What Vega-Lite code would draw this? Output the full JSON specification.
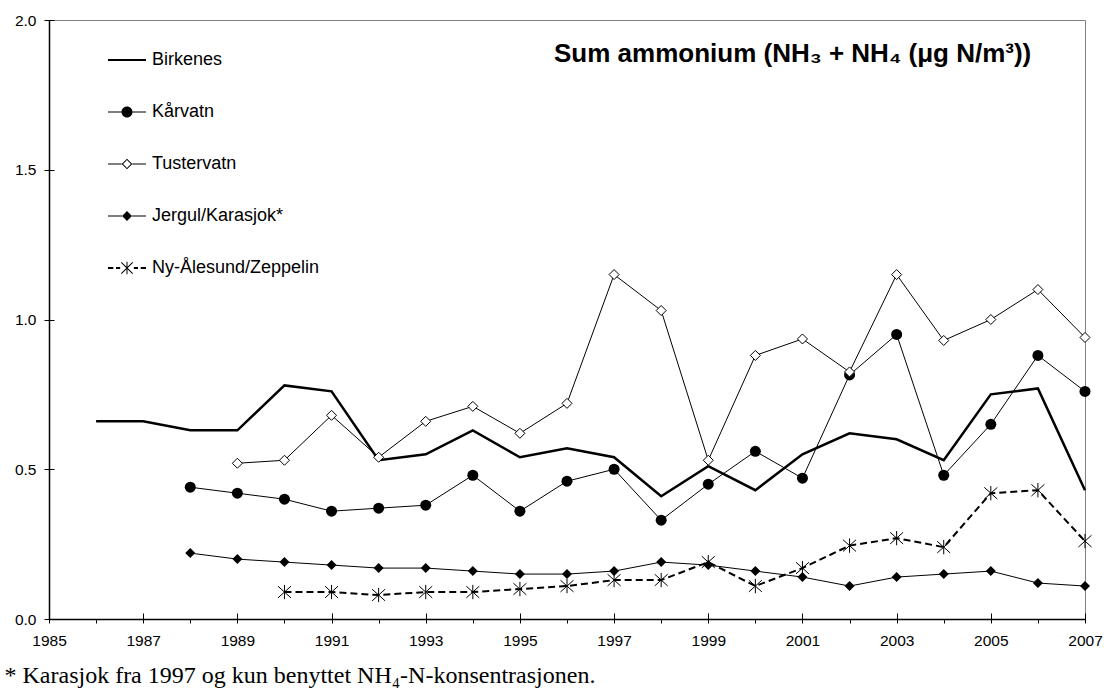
{
  "$schema": "https://vega.github.io/schema/vega-lite/v6.json",
  "width": 1036,
  "height": 599,
  "autosize": {"type": "none"},
  "padding": {"left": 49, "top": 20, "right": 19, "bottom": 69},
  "background": "white",
  "config": {"view": {"stroke": "#808080", "strokeWidth": 1}, "font": "Liberation Sans"},
  "title": {"text": "Sum ammonium (NH₃ + NH₄ (μg N/m³))", "orient": "none", "anchor": "start", "align": "left", "frame": "group", "font": "Liberation Sans", "fontSize": 26, "fontWeight": "bold", "color": "black", "baseline": "alphabetic", "offset": 0, "dx": 505, "dy": 42},
  "data": {"values": [
    {"series": "Birkenes", "year": 1986, "value": 0.66},
    {"series": "Birkenes", "year": 1987, "value": 0.66},
    {"series": "Birkenes", "year": 1988, "value": 0.63},
    {"series": "Birkenes", "year": 1989, "value": 0.63},
    {"series": "Birkenes", "year": 1990, "value": 0.78},
    {"series": "Birkenes", "year": 1991, "value": 0.76},
    {"series": "Birkenes", "year": 1992, "value": 0.53},
    {"series": "Birkenes", "year": 1993, "value": 0.55},
    {"series": "Birkenes", "year": 1994, "value": 0.63},
    {"series": "Birkenes", "year": 1995, "value": 0.54},
    {"series": "Birkenes", "year": 1996, "value": 0.57},
    {"series": "Birkenes", "year": 1997, "value": 0.54},
    {"series": "Birkenes", "year": 1998, "value": 0.41},
    {"series": "Birkenes", "year": 1999, "value": 0.51},
    {"series": "Birkenes", "year": 2000, "value": 0.43},
    {"series": "Birkenes", "year": 2001, "value": 0.55},
    {"series": "Birkenes", "year": 2002, "value": 0.62},
    {"series": "Birkenes", "year": 2003, "value": 0.60},
    {"series": "Birkenes", "year": 2004, "value": 0.53},
    {"series": "Birkenes", "year": 2005, "value": 0.75},
    {"series": "Birkenes", "year": 2006, "value": 0.77},
    {"series": "Birkenes", "year": 2007, "value": 0.43},
    {"series": "Kårvatn", "year": 1988, "value": 0.44},
    {"series": "Kårvatn", "year": 1989, "value": 0.42},
    {"series": "Kårvatn", "year": 1990, "value": 0.40},
    {"series": "Kårvatn", "year": 1991, "value": 0.36},
    {"series": "Kårvatn", "year": 1992, "value": 0.37},
    {"series": "Kårvatn", "year": 1993, "value": 0.38},
    {"series": "Kårvatn", "year": 1994, "value": 0.48},
    {"series": "Kårvatn", "year": 1995, "value": 0.36},
    {"series": "Kårvatn", "year": 1996, "value": 0.46},
    {"series": "Kårvatn", "year": 1997, "value": 0.50},
    {"series": "Kårvatn", "year": 1998, "value": 0.33},
    {"series": "Kårvatn", "year": 1999, "value": 0.45},
    {"series": "Kårvatn", "year": 2000, "value": 0.56},
    {"series": "Kårvatn", "year": 2001, "value": 0.47},
    {"series": "Kårvatn", "year": 2002, "value": 0.815},
    {"series": "Kårvatn", "year": 2003, "value": 0.95},
    {"series": "Kårvatn", "year": 2004, "value": 0.48},
    {"series": "Kårvatn", "year": 2005, "value": 0.65},
    {"series": "Kårvatn", "year": 2006, "value": 0.88},
    {"series": "Kårvatn", "year": 2007, "value": 0.76},
    {"series": "Tustervatn", "year": 1989, "value": 0.52},
    {"series": "Tustervatn", "year": 1990, "value": 0.53},
    {"series": "Tustervatn", "year": 1991, "value": 0.68},
    {"series": "Tustervatn", "year": 1992, "value": 0.54},
    {"series": "Tustervatn", "year": 1993, "value": 0.66},
    {"series": "Tustervatn", "year": 1994, "value": 0.71},
    {"series": "Tustervatn", "year": 1995, "value": 0.62},
    {"series": "Tustervatn", "year": 1996, "value": 0.72},
    {"series": "Tustervatn", "year": 1997, "value": 1.15},
    {"series": "Tustervatn", "year": 1998, "value": 1.03},
    {"series": "Tustervatn", "year": 1999, "value": 0.53},
    {"series": "Tustervatn", "year": 2000, "value": 0.88},
    {"series": "Tustervatn", "year": 2001, "value": 0.935},
    {"series": "Tustervatn", "year": 2002, "value": 0.825},
    {"series": "Tustervatn", "year": 2003, "value": 1.15},
    {"series": "Tustervatn", "year": 2004, "value": 0.93},
    {"series": "Tustervatn", "year": 2005, "value": 1.00},
    {"series": "Tustervatn", "year": 2006, "value": 1.10},
    {"series": "Tustervatn", "year": 2007, "value": 0.94},
    {"series": "Jergul/Karasjok*", "year": 1988, "value": 0.22},
    {"series": "Jergul/Karasjok*", "year": 1989, "value": 0.20},
    {"series": "Jergul/Karasjok*", "year": 1990, "value": 0.19},
    {"series": "Jergul/Karasjok*", "year": 1991, "value": 0.18},
    {"series": "Jergul/Karasjok*", "year": 1992, "value": 0.17},
    {"series": "Jergul/Karasjok*", "year": 1993, "value": 0.17},
    {"series": "Jergul/Karasjok*", "year": 1994, "value": 0.16},
    {"series": "Jergul/Karasjok*", "year": 1995, "value": 0.15},
    {"series": "Jergul/Karasjok*", "year": 1996, "value": 0.15},
    {"series": "Jergul/Karasjok*", "year": 1997, "value": 0.16},
    {"series": "Jergul/Karasjok*", "year": 1998, "value": 0.19},
    {"series": "Jergul/Karasjok*", "year": 1999, "value": 0.18},
    {"series": "Jergul/Karasjok*", "year": 2000, "value": 0.16},
    {"series": "Jergul/Karasjok*", "year": 2001, "value": 0.14},
    {"series": "Jergul/Karasjok*", "year": 2002, "value": 0.11},
    {"series": "Jergul/Karasjok*", "year": 2003, "value": 0.14},
    {"series": "Jergul/Karasjok*", "year": 2004, "value": 0.15},
    {"series": "Jergul/Karasjok*", "year": 2005, "value": 0.16},
    {"series": "Jergul/Karasjok*", "year": 2006, "value": 0.12},
    {"series": "Jergul/Karasjok*", "year": 2007, "value": 0.11},
    {"series": "Ny-Ålesund/Zeppelin", "year": 1990, "value": 0.09},
    {"series": "Ny-Ålesund/Zeppelin", "year": 1991, "value": 0.09},
    {"series": "Ny-Ålesund/Zeppelin", "year": 1992, "value": 0.08},
    {"series": "Ny-Ålesund/Zeppelin", "year": 1993, "value": 0.09},
    {"series": "Ny-Ålesund/Zeppelin", "year": 1994, "value": 0.09},
    {"series": "Ny-Ålesund/Zeppelin", "year": 1995, "value": 0.10},
    {"series": "Ny-Ålesund/Zeppelin", "year": 1996, "value": 0.11},
    {"series": "Ny-Ålesund/Zeppelin", "year": 1997, "value": 0.13},
    {"series": "Ny-Ålesund/Zeppelin", "year": 1998, "value": 0.13},
    {"series": "Ny-Ålesund/Zeppelin", "year": 1999, "value": 0.19},
    {"series": "Ny-Ålesund/Zeppelin", "year": 2000, "value": 0.11},
    {"series": "Ny-Ålesund/Zeppelin", "year": 2001, "value": 0.17},
    {"series": "Ny-Ålesund/Zeppelin", "year": 2002, "value": 0.245},
    {"series": "Ny-Ålesund/Zeppelin", "year": 2003, "value": 0.27},
    {"series": "Ny-Ålesund/Zeppelin", "year": 2004, "value": 0.24},
    {"series": "Ny-Ålesund/Zeppelin", "year": 2005, "value": 0.42},
    {"series": "Ny-Ålesund/Zeppelin", "year": 2006, "value": 0.43},
    {"series": "Ny-Ålesund/Zeppelin", "year": 2007, "value": 0.26}
  ]},
  "layer": [
    {
      "encoding": {
        "x": {"field": "year", "type": "quantitative", "scale": {"domain": [1985, 2007], "nice": false, "zero": false},
          "axis": {"orient": "bottom", "values": [1985,1986,1987,1988,1989,1990,1991,1992,1993,1994,1995,1996,1997,1998,1999,2000,2001,2002,2003,2004,2005,2006,2007],
            "format": "d", "labelExpr": "datum.value % 2 == 1 ? datum.label : ''", "labelOverlap": false, "labelFlush": false,
            "tickSize": 4, "tickColor": "black", "tickWidth": 1, "domainColor": "black", "domainWidth": 1.5, "grid": false,
            "labelFont": "Liberation Sans", "labelFontSize": 15.5, "labelColor": "black", "labelPadding": 10,
            "title": "* Karasjok fra 1997 og kun benyttet NH₄-N-konsentrasjonen.", "titleFont": "Liberation Serif", "titleFontSize": 24, "titleFontWeight": "normal", "titleColor": "black",
            "titleAnchor": "start", "titleAlign": "left", "titleBaseline": "alphabetic", "titleX": -45, "titleY": 63}},
        "y": {"field": "value", "type": "quantitative", "scale": {"domain": [0, 2], "nice": false, "zero": true},
          "axis": {"orient": "left", "values": [0, 0.5, 1, 1.5, 2], "format": ".1f", "tickSize": 5, "tickColor": "black", "domainColor": "black", "domainWidth": 1.5, "grid": false,
            "labelFont": "Liberation Sans", "labelFontSize": 15.5, "labelColor": "black", "labelPadding": 8, "title": null}}
      },
      "layer": [
        {"transform": [{"filter": "datum.series == 'Birkenes'"}], "mark": {"type": "line", "color": "black", "strokeWidth": 2.5}},
        {"transform": [{"filter": "datum.series == 'Kårvatn' || datum.series == 'Tustervatn' || datum.series == 'Jergul/Karasjok*'"}], "mark": {"type": "line", "color": "black", "strokeWidth": 1}, "encoding": {"detail": {"field": "series"}}},
        {"transform": [{"filter": "datum.series == 'Ny-Ålesund/Zeppelin'"}], "mark": {"type": "line", "color": "black", "strokeWidth": 2, "strokeDash": [7, 4]}},
        {"transform": [{"filter": "datum.series == 'Kårvatn'"}], "mark": {"type": "point", "shape": "circle", "filled": true, "color": "black", "size": 121, "opacity": 1}},
        {"transform": [{"filter": "datum.series == 'Tustervatn'"}], "mark": {"type": "point", "shape": "diamond", "filled": true, "fill": "white", "stroke": "black", "strokeWidth": 1, "size": 100, "opacity": 1}},
        {"transform": [{"filter": "datum.series == 'Jergul/Karasjok*'"}], "mark": {"type": "point", "shape": "diamond", "filled": true, "color": "black", "size": 100, "opacity": 1}},
        {"transform": [{"filter": "datum.series == 'Ny-Ålesund/Zeppelin'"}], "mark": {"type": "point", "shape": "M-1,-0.9L1,0.9M-1,0.9L1,-0.9M0,-1.1V1.1", "filled": false, "color": "black", "strokeWidth": 1, "size": 169, "opacity": 1}}
      ]
    },
    {
      "mark": {"type": "point", "filled": true, "color": "black", "size": 1444, "opacity": 0},
      "encoding": {
        "x": {"field": "year", "type": "quantitative",
          "axis": {"orient": "bottom", "values": [1985,1987,1989,1991,1993,1995,1997,1999,2001,2003,2005,2007], "tickSize": -6, "tickColor": "black", "labels": false, "domain": false, "grid": false, "title": null}},
        "y": {"field": "value", "type": "quantitative",
          "axis": {"orient": "left", "values": [0, 0.5, 1, 1.5, 2], "tickSize": -5, "tickColor": "black", "labels": false, "domain": false, "grid": false, "title": null}},
        "shape": {"field": "series", "type": "nominal",
          "scale": {"domain": ["Birkenes", "Kårvatn", "Tustervatn", "Jergul/Karasjok*", "Ny-Ålesund/Zeppelin"],
            "range": [
              "M-1,-0.053H1V0.053H-1Z",
              "M-1,-0.026H-0.29V0.026H-1ZM0.29,-0.026H1V0.026H0.29ZM0.29,0A0.29,0.29,0,1,1,-0.29,0A0.29,0.29,0,1,1,0.29,0Z",
              "M-1,-0.026H-0.28V0.026H-1ZM0.28,-0.026H1V0.026H0.28ZM0,-0.28L0.28,0L0,0.28L-0.28,0ZM0,-0.206L-0.206,0L0,0.206L0.206,0Z",
              "M-1,-0.026H-0.26V0.026H-1ZM0.26,-0.026H1V0.026H0.26ZM0,-0.26L0.26,0L0,0.26L-0.26,0Z",
              "M-1,-0.053H-0.72V0.053H-1ZM-0.58,-0.053H-0.36V0.053H-0.58ZM0.36,-0.053H0.58V0.053H0.36ZM0.72,-0.053H1V0.053H0.72ZM-0.281,-0.319L0.319,0.281L0.281,0.319L-0.319,-0.281ZM-0.319,0.281L0.281,-0.319L0.319,-0.281L-0.281,0.319ZM-0.026,-0.33H0.026V0.33H-0.026Z"
            ]},
          "legend": {"title": null, "orient": "none", "legendX": 58, "legendY": 20, "padding": 0,
            "labelFont": "Liberation Sans", "labelFontSize": 18, "labelColor": "black", "labelOffset": 5, "labelLimit": 400,
            "rowPadding": 23, "symbolSize": 1444, "symbolFillColor": "black", "symbolOpacity": 1}}
      }
    }
  ],
  "resolve": {"axis": {"x": "independent", "y": "independent"}}
}
